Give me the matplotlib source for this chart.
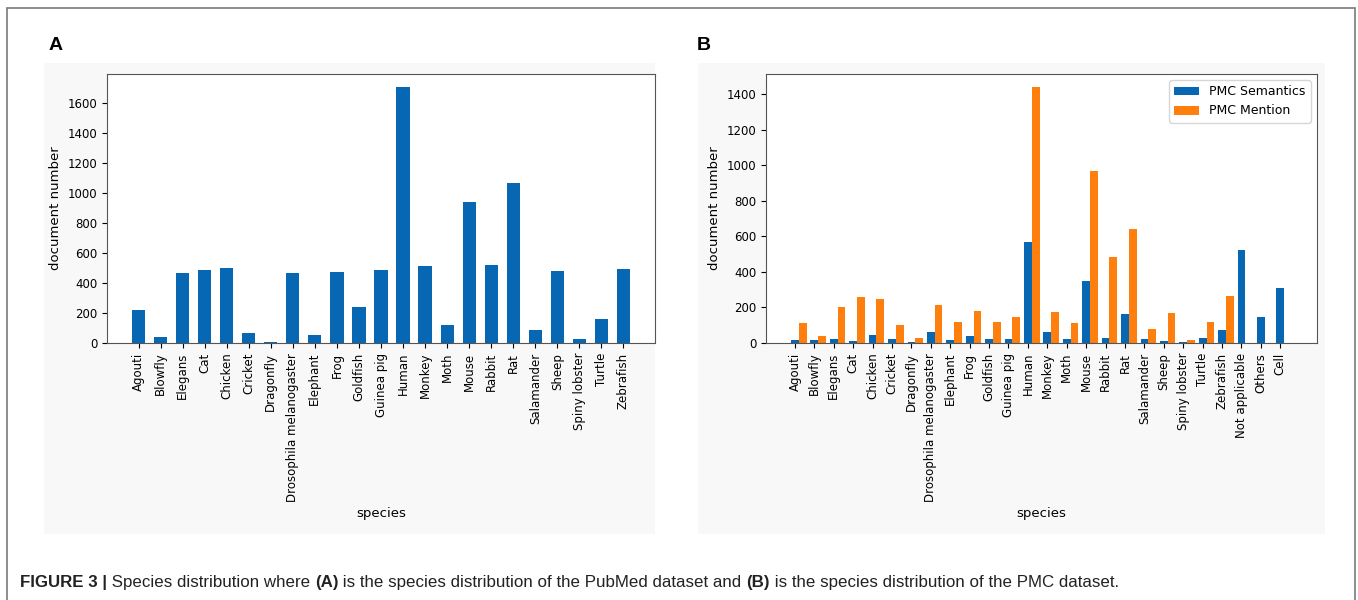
import matplotlib
matplotlib.use("Agg")
import matplotlib.pyplot as plt
import matplotlib.patches as mpatches
import numpy as np

# ---------------- data ----------------
species_a = ["Agouti", "Blowfly", "Elegans", "Cat", "Chicken", "Cricket", "Dragonfly",
             "Drosophila melanogaster", "Elephant", "Frog", "Goldfish", "Guinea pig",
             "Human", "Monkey", "Moth", "Mouse", "Rabbit", "Rat", "Salamander", "Sheep",
             "Spiny lobster", "Turtle", "Zebrafish"]
pubmed_counts = [220, 40, 470, 490, 500, 65, 10, 465, 55, 475, 240, 490,
                 1710, 515, 120, 940, 520, 1065, 85, 480, 30, 160, 495]

species_b = species_a + ["Not applicable", "Others", "Cell"]
pmc_semantics = [15, 15, 20, 12, 45, 20, 5, 60, 15, 40, 20, 25,
                 570, 60, 25, 350, 30, 165, 25, 12, 8, 30, 75, 520, 145, 310]
pmc_mention = [110, 40, 205, 260, 250, 100, 30, 215, 120, 180, 120, 145,
               1440, 175, 115, 965, 485, 640, 80, 170, 15, 120, 265, 0, 0, 0]

series_labels = ["PMC Semantics", "PMC Mention"]
caption_parts = [("FIGURE 3 |", "bold"), (" Species distribution where ", "normal"),
                 ("(A)", "bold"), (" is the species distribution of the PubMed dataset and ", "normal"),
                 ("(B)", "bold"), (" is the species distribution of the PMC dataset.", "normal")]

BLUE = "#0867b3"
ORANGE = "#ff7f0e"

W, H = 1358, 600
fig = plt.figure(figsize=(W / 100, H / 100), dpi=100)
fig.patch.set_facecolor("white")

def fx(px):
    return px / W

def fy(py):
    return 1 - py / H

# outer border
fig.patches.append(mpatches.Rectangle((fx(7), fy(640)), fx(1355) - fx(7), fy(8) - fy(640),
                                      transform=fig.transFigure, fill=False,
                                      edgecolor="#7a7a7a", linewidth=1.2, zorder=-5))
# faint grey panels behind plots
for x0, x1 in [(44, 655), (698, 1325)]:
    fig.patches.append(mpatches.Rectangle((fx(x0), fy(534)), fx(x1) - fx(x0), fy(63) - fy(534),
                                          transform=fig.transFigure, facecolor="#f8f8f8",
                                          edgecolor="none", zorder=-5))

tick_fs = 8.5
label_fs = 9.5

# ---------------- panel A ----------------
axA = fig.add_axes([fx(107), fy(343), fx(655) - fx(107), fy(74) - fy(343)])
xa = np.arange(len(species_a))
axA.bar(xa, pubmed_counts, width=0.6, color=BLUE)
axA.set_xticks(xa)
axA.set_xticklabels(species_a, rotation=90, fontsize=tick_fs)
axA.set_yticks(np.arange(0, 1601, 200))
axA.tick_params(axis="y", labelsize=tick_fs)
axA.set_ylabel("document number", fontsize=label_fs)
axA.set_xlabel("species", fontsize=label_fs)
axA.set_facecolor("white")

# ---------------- panel B ----------------
axB = fig.add_axes([fx(766), fy(343), fx(1317) - fx(766), fy(74) - fy(343)])
xb = np.arange(len(species_b))
axB.bar(xb, pmc_semantics, width=0.4, color=BLUE, label=series_labels[0])
axB.bar(xb + 0.4, pmc_mention, width=0.4, color=ORANGE, label=series_labels[1])
axB.set_xticks(xb)
axB.set_xticklabels(species_b, rotation=90, fontsize=tick_fs)
axB.set_yticks(np.arange(0, 1401, 200))
axB.tick_params(axis="y", labelsize=tick_fs)
axB.set_ylabel("document number", fontsize=label_fs)
axB.set_xlabel("species", fontsize=label_fs)
axB.legend(loc="upper right", fontsize=9)
axB.set_facecolor("white")

for ax in (axA, axB):
    for s in ax.spines.values():
        s.set_color("#555555")

# panel letters
letter_family = ["Liberation Sans", "DejaVu Sans"]
fig.text(fx(49), fy(45), "A", fontsize=14, fontweight="bold", family=letter_family,
         va="center", ha="left")
fig.text(fx(697), fy(45), "B", fontsize=14, fontweight="bold", family=letter_family,
         va="center", ha="left")

# caption
cap_family = ["Liberation Sans", "DejaVu Sans"]
cap_fs = 12.2
texts = []
for txt, wt in caption_parts:
    texts.append(fig.text(fx(20), fy(587), txt, fontsize=cap_fs, fontweight=wt,
                          family=cap_family, va="baseline", ha="left", color="#222222"))
fig.canvas.draw()
renderer = fig.canvas.get_renderer()
x_px = texts[0].get_window_extent(renderer).x1
for t in texts[1:]:
    t.set_position((x_px / W, fy(587)))
    x_px = x_px + t.get_window_extent(renderer).width

fig.savefig("out.png", dpi=100)
